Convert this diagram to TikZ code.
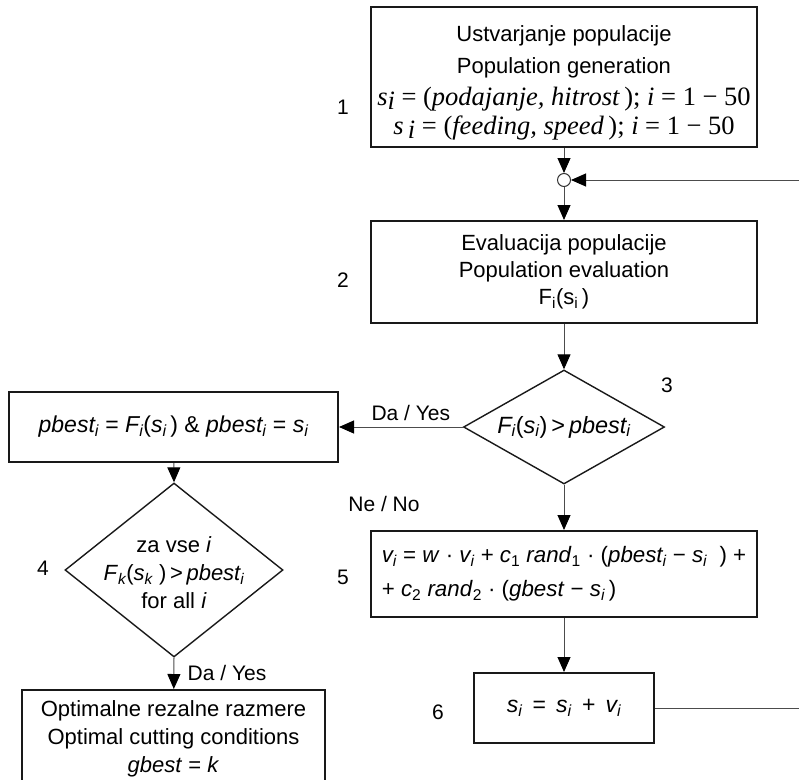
\documentclass[tikz,border=0pt]{standalone}
\usepackage{fontspec}
\setmainfont{Liberation Sans}
\newfontfamily\timesfont{Liberation Serif}
\usetikzlibrary{arrows.meta}
\usetikzlibrary{shapes.geometric}
\newcommand{\lo}[1]{\textsubscript{\itshape #1}}
\newcommand{\tlo}[1]{\raisebox{-.35ex}{\itshape #1}}
\tikzset{
    stepbox/.style={draw=black!90, line width=2pt, rectangle, align=center, inner sep=0pt, font=\fontsize{22}{27}\selectfont},
    mathbox/.style={stepbox, font=\fontsize{23}{34}\selectfont},
    testbox/.style={draw=black!90, line width=1.4pt, diamond, inner sep=0pt},
    testtext/.style={align=center, inner sep=0pt, font=\fontsize{22}{28}\selectfont},
    flow/.style={draw=black!70, line width=1pt, -{Triangle[length=15pt,width=13pt,color=black]}},
    flowend/.style={draw=black!70, line width=1pt},
    numlabel/.style={font=\fontsize{21}{24}\selectfont},
}

\begin{document}
\begin{tikzpicture}[x=1pt,y=-1pt]

	    \clip (0,0) rectangle (799,779);

	    % main column
	    \node[stepbox, minimum width=386pt, minimum height=140pt, font=\fontsize{22}{32}\selectfont] (gen) at (564,77)
	    {\rule{0pt}{28pt}Ustvarjanje populacije\\ Population generation\\
	    {\timesfont\fontsize{26.5}{31}\selectfont \textit{s}\tlo{i} = (\textit{podajanje, hitrost}\,); \textit{i} = 1 − 50}\\[-3pt]
	    {\timesfont\fontsize{26.5}{31}\selectfont \textit{s}\,\tlo{i} = (\textit{feeding, speed}\,); \textit{i} = 1 − 50}};
	    \node[circle, draw=black!80, line width=1pt, fill=white, minimum size=13pt, inner sep=0pt] (join) at (564,180) {};
	    \coordinate (loopin) at (799,180);
	    \node[stepbox, minimum width=386pt, minimum height=102pt] (eval) at (564,272)
	    {Evaluacija populacije\\ Population evaluation\\ F\textsubscript{i}(s\textsubscript{i}\,)};
	    \node[testbox, minimum width=201pt, minimum height=114pt] (best) at (564,427) {};
	    \node[testtext, font=\fontsize{23.5}{28}\selectfont] (bestt) at (564,427) {\textit{F\lo{i}}(\textit{s\lo{i}})\,>\,\textit{pbest\lo{i}}};
	    \node[mathbox, minimum width=386pt, minimum height=86pt, align=left, font=\fontsize{22.3}{34}\selectfont] (upd) at (564,574)
	    {\textit{v\lo{i}} = \textit{w} · \textit{v\lo{i}} + \textit{c}\textsubscript{1} \textit{rand}\textsubscript{1} · (\textit{pbest\lo{i}} − \textit{s\lo{i}}\ \ ) +\\
	    + \textit{c}\textsubscript{2} \textit{rand}\textsubscript{2} · (\textit{gbest} − \textit{s\lo{i}}\,)};
	    \node[mathbox, minimum width=180pt, minimum height=70pt] (pos) at (564,708)
	    {\textit{s\lo{i}}\, = \,\textit{s\lo{i}}\, + \,\textit{v\lo{i}}};
	    \coordinate (loopout) at (799,708);

	    % left column
	    \node[mathbox, minimum width=329pt, minimum height=70pt] (pb) at (173.5,427)
	    {\textit{pbest\lo{i}} = \textit{F\lo{i}}(\textit{s\lo{i}}\,) \& \textit{pbest\lo{i}} = \textit{s\lo{i}}};
	    \node[testbox, minimum width=218pt, minimum height=174pt] (all) at (174,570) {};
	    \node[testtext] (allt) at (174,573) {za vse \textit{i}\\ \textit{F}\textsubscript{\itshape k}(\textit{s}\textsubscript{\itshape k}\ )\,>\,\textit{pbest\lo{i}}\\ for all \textit{i}};
	    \node[stepbox, anchor=north, minimum width=303pt, minimum height=98pt, font=\fontsize{22}{28}\selectfont] (opt) at (173.5,689)
	    {Optimalne rezalne razmere\\ Optimal cutting conditions\\ \textit{gbest} = \textit{k}};

	    % step numbers
	    \node[numlabel] (n1) at (343,107) {1};
	    \node[numlabel] (n2) at (343,280) {2};
	    \node[numlabel] (n3) at (667,385) {3};
	    \node[numlabel] (n4) at (43,568) {4};
	    \node[numlabel] (n5) at (343,577) {5};
	    \node[numlabel] (n6) at (438,712) {6};

	    % connectors
	    \draw[flow] (gen) -- (join);
	    \draw[flow] (join) -- (eval);
	    \draw[flow] (loopin) -- (join);
	    \draw[flow] (eval) -- (best.north);
	    \draw[flow] (best.west) -- node[numlabel, pos=0.42, above=2pt] (yes1) {Da / Yes} (pb.east);
	    \draw[flow] (best.south) -- (upd);
	    \node[numlabel] (no1) at (384,504) {Ne / No};
	    \draw[flow] (pb) -- (all.north);
	    \draw[flow] (all.south) -- node[numlabel, right=10pt] (yes2) {Da / Yes} (opt);
	    \draw[flow] (upd) -- (pos);
	    \draw[flowend] (pos) -- (loopout);

\end{tikzpicture}
\end{document}
